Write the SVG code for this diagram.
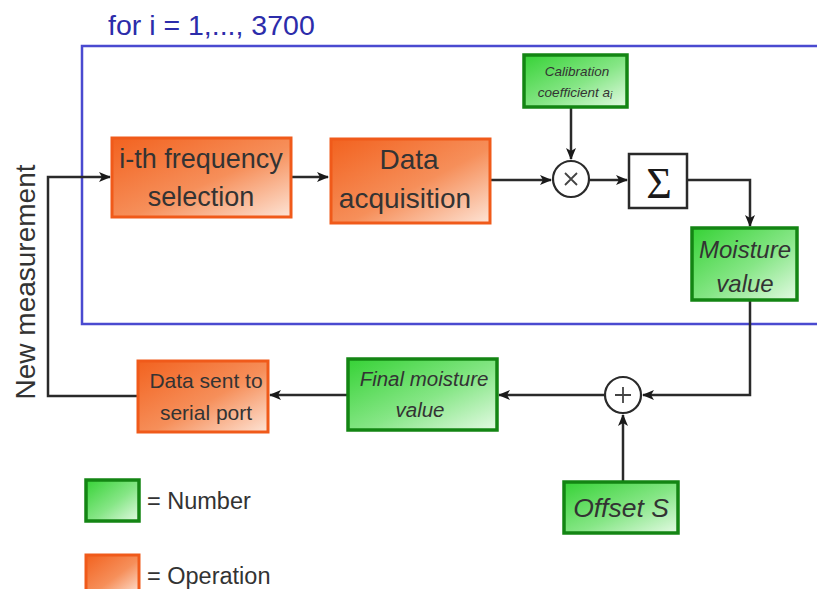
<svg xmlns="http://www.w3.org/2000/svg" width="817" height="589" viewBox="0 0 817 589">
  <defs>
    <linearGradient id="gOrange" x1="0" y1="0" x2="1" y2="1">
      <stop offset="0" stop-color="#f2621f"/>
      <stop offset="0.55" stop-color="#f68f5a"/>
      <stop offset="1" stop-color="#fde4d6"/>
    </linearGradient>
    <linearGradient id="gGreen" x1="0" y1="0" x2="1" y2="1">
      <stop offset="0" stop-color="#36d236"/>
      <stop offset="0.55" stop-color="#86e686"/>
      <stop offset="1" stop-color="#e4fae4"/>
    </linearGradient>
    <marker id="arrow" viewBox="0 0 12 10" refX="11" refY="5" markerWidth="12" markerHeight="10" markerUnits="userSpaceOnUse" orient="auto">
      <path d="M0,0 L12,5 L0,10 L3,5 Z" fill="#1a1a1a"/>
    </marker>
  </defs>
  <style>
    .op { fill: url(#gOrange); stroke: #f05a1a; stroke-width: 3; }
    .num { fill: url(#gGreen); stroke: #138513; stroke-width: 3.5; }
    .lbl { font-family: "Liberation Sans", Arial, sans-serif; fill: #333333; text-anchor: middle; }
    .it { font-style: italic; }
    .wire { fill: none; stroke: #2a2a2a; stroke-width: 2.5; }
    .circ { fill: #ffffff; stroke: #2a2a2a; stroke-width: 2.2; }
    .leg { font-family: "Liberation Sans", Arial, sans-serif; font-size: 23.5px; fill: #333333; }
  </style>
  <rect width="817" height="589" fill="#ffffff"/>

  <!-- loop frame -->
  <g id="loop">
    <path d="M820,46 H82 V324 H820" fill="none" stroke="#4a4ad0" stroke-width="2.5"/>
    <text x="108" y="35" font-family="Liberation Sans, Arial, sans-serif" font-size="28.5" fill="#2c2caa">for i = 1,..., 3700</text>
  </g>

  <!-- connectors -->
  <g id="connectors">
    <path class="wire" d="M490,180 H551" marker-end="url(#arrow)"/>
    <path class="wire" d="M290,177 H328" marker-end="url(#arrow)"/>
    <path class="wire" d="M571,107 V159" marker-end="url(#arrow)"/>
    <path class="wire" d="M589,180 H627" marker-end="url(#arrow)"/>
    <path class="wire" d="M687,180 H750 V226" marker-end="url(#arrow)"/>
    <path class="wire" d="M750,300 V395 H643" marker-end="url(#arrow)"/>
    <path class="wire" d="M605,395 H499" marker-end="url(#arrow)"/>
    <path class="wire" d="M623,482 V415" marker-end="url(#arrow)"/>
    <path class="wire" d="M348,395 H270" marker-end="url(#arrow)"/>
    <path class="wire" d="M137,396 H48 V177 H110" marker-end="url(#arrow)"/>
  </g>

  <g id="freq-select">
    <rect class="op" x="112" y="138" width="179" height="79"/>
    <text class="lbl" x="201" y="168" font-size="27">i-th frequency</text>
    <text class="lbl" x="201" y="206" font-size="27">selection</text>
  </g>

  <g id="data-acq">
    <rect class="op" x="331" y="139" width="159" height="84"/>
    <text class="lbl" x="409" y="169" font-size="28">Data</text>
    <text class="lbl" x="405" y="208" font-size="28">acquisition</text>
  </g>

  <g id="calibration">
    <rect class="num" x="524" y="55" width="103" height="52"/>
    <text class="lbl it" x="577" y="76" font-size="13.5">Calibration</text>
    <text class="lbl it" x="575" y="97" font-size="13.5">coefficient a<tspan font-size="10" dy="2">i</tspan></text>
  </g>

  <g id="multiply">
    <circle class="circ" cx="571" cy="179" r="18"/>
    <path d="M565,173 L577,185 M577,173 L565,185" stroke="#444" stroke-width="1.8"/>
  </g>

  <g id="sum">
    <rect x="629" y="154" width="58" height="54" fill="#ffffff" stroke="#2a2a2a" stroke-width="2.5"/>
    <text x="659" y="198" font-family="Liberation Serif, Times New Roman, serif" font-size="44" fill="#1a1a1a" text-anchor="middle">Σ</text>
  </g>

  <g id="moisture">
    <rect class="num" x="692" y="228" width="105" height="72"/>
    <text class="lbl it" x="745" y="258" font-size="24">Moisture</text>
    <text class="lbl it" x="745" y="292" font-size="24">value</text>
  </g>

  <g id="add">
    <circle class="circ" cx="623" cy="395" r="18"/>
    <path d="M623,387 V403 M615,395 H631" stroke="#444" stroke-width="1.8"/>
  </g>

  <g id="offset">
    <rect class="num" x="564" y="482" width="114" height="51"/>
    <text class="lbl it" x="621" y="517" font-size="26.5">Offset S</text>
  </g>

  <g id="final-moisture">
    <rect class="num" x="348" y="359" width="149" height="71"/>
    <text class="lbl it" x="424" y="386" font-size="20.5">Final moisture</text>
    <text class="lbl it" x="420" y="417" font-size="20.5">value</text>
  </g>

  <g id="serial">
    <rect class="op" x="138" y="361" width="130" height="71"/>
    <text class="lbl" x="206" y="388" font-size="21">Data sent to</text>
    <text class="lbl" x="206" y="420" font-size="21">serial port</text>
  </g>

  <g id="new-measurement">
    <text class="lbl" transform="translate(35,282) rotate(-90)" font-size="28">New measurement</text>
  </g>

  <g id="legend">
    <rect class="num" x="86" y="480" width="53" height="41" stroke-width="2.5"/>
    <text class="leg" x="147" y="509">= Number</text>
    <rect class="op" x="86" y="555" width="53" height="40" stroke-width="2.5"/>
    <text class="leg" x="147" y="584">= Operation</text>
  </g>
</svg>
